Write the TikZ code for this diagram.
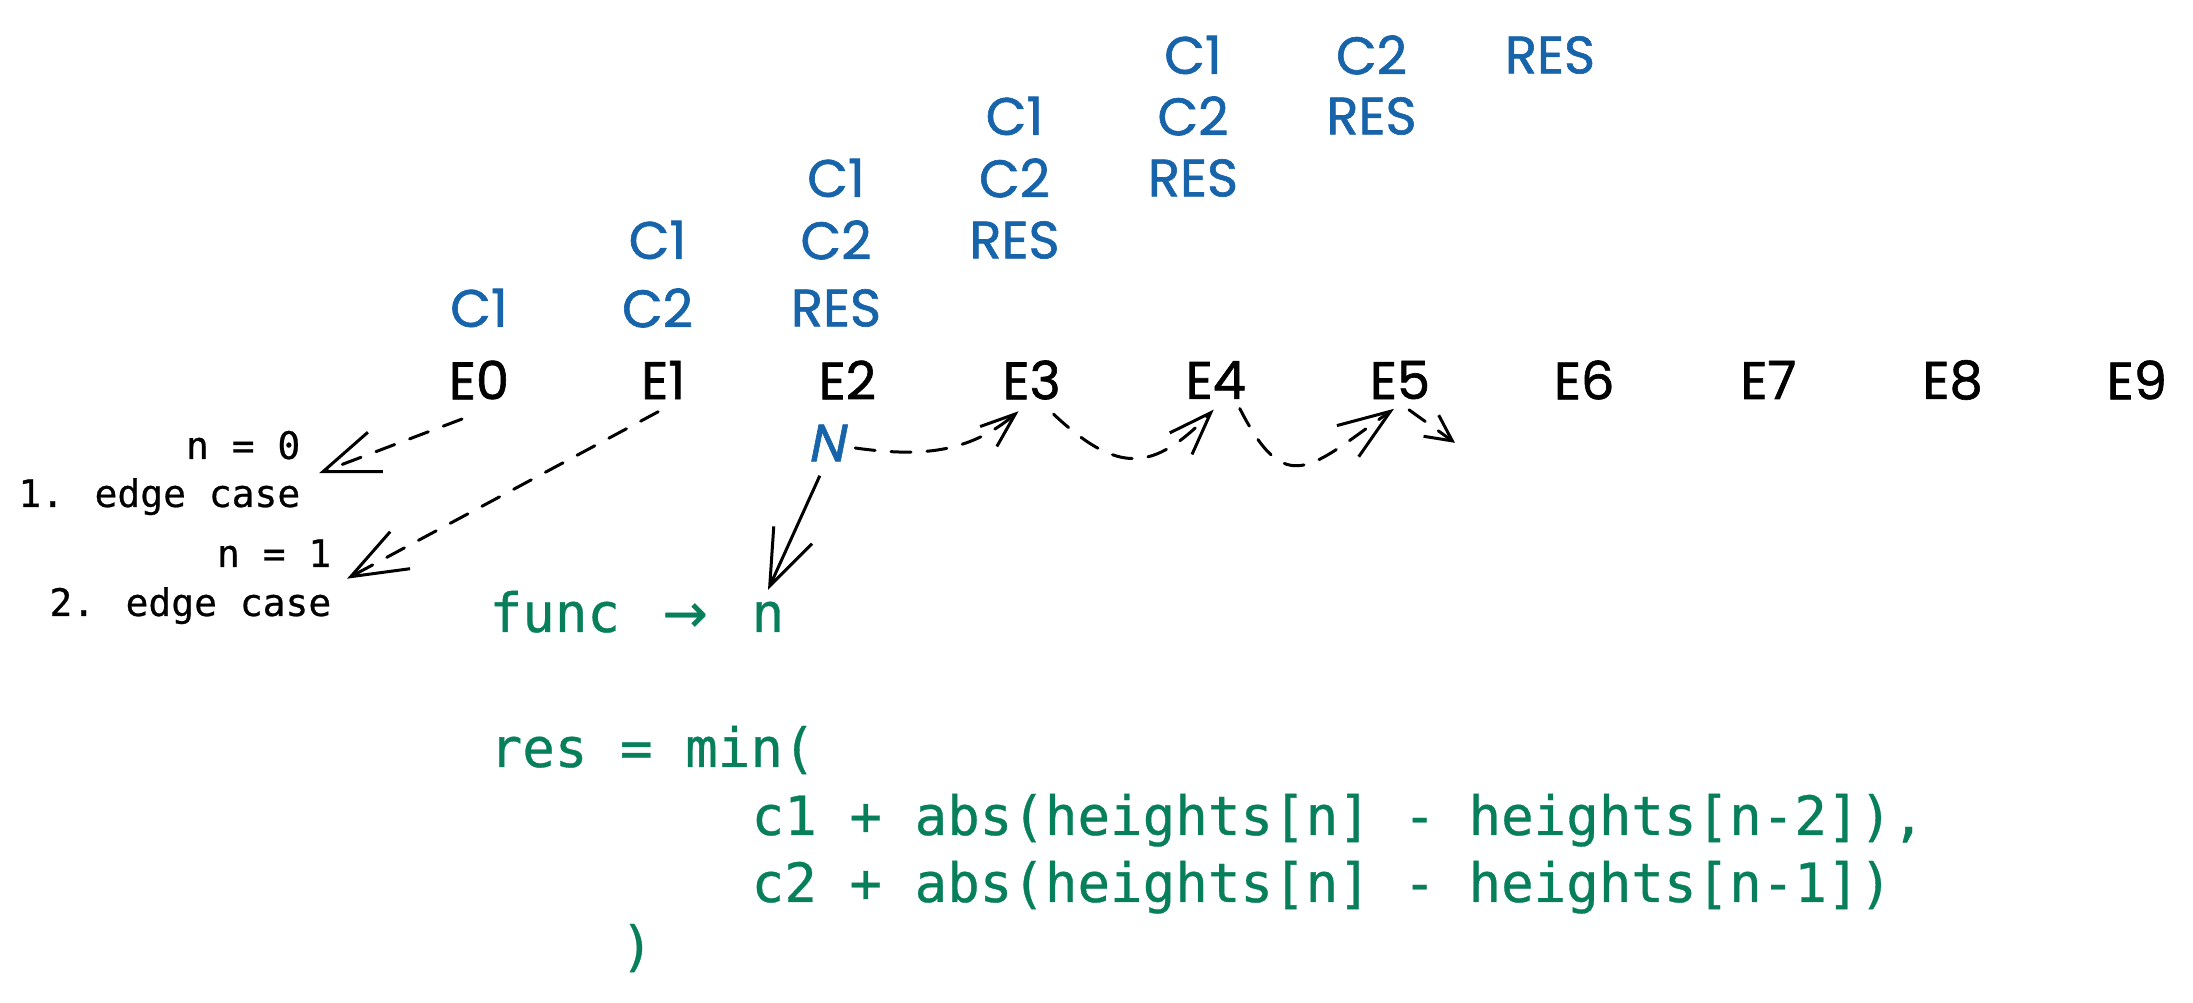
\documentclass[tikz,border=0pt]{standalone}
\usepackage{fontspec}
\setmainfont{Poppins}
\newfontfamily\handfont[FakeBold=1.2]{Poppins}
\newfontfamily\codefont[FakeBold=0.6]{DejaVu Sans Mono}
\newfontfamily\arrowfont[FakeBold=0.6]{DejaVu Sans}
\newfontfamily\slantfont[FakeSlant=0.2, FakeBold=1.2]{Poppins}
\usetikzlibrary{positioning, arrows.meta}
\definecolor{sketchblue}{HTML}{1864AB}
\definecolor{codegreen}{HTML}{087F5B}

\begin{document}
\begin{tikzpicture}
    [
        node distance=6.2mm and 17.85mm, on grid, inner sep=0pt,
        e_node/.style={font=\handfont\fontsize{15}{18}\selectfont, text=black},
        blue_node/.style={font=\handfont\fontsize{15}{18}\selectfont, text=sketchblue},
        code_node/.style={font=\codefont\fontsize{15.4}{18}\selectfont, text=codegreen, anchor=base west},
        note_node/.style={font=\codefont\fontsize{10.8}{13}\selectfont, text=black, anchor=base east},
        big_tip/.style={-{Straight Barb[length=5.6mm, width=4.2mm]}},
        dash_line/.style={dash pattern=on 2mm off 1.6mm, line cap=round},
    ]
        \useasboundingbox (-4.79,3.80) rectangle (17.14,-6.23) ;
        % steps
        \node[e_node] (e0) {E0} ;
        \node[e_node] (e1) [right = 18.42mm of e0] {E1} ;
        \node[e_node] (e2) [right = 18.42mm of e1] {E2} ;
        \node[e_node] (e3) [right = 18.42mm of e2] {E3} ;
        \node[e_node] (e4) [right = 18.42mm of e3] {E4} ;
        \node[e_node] (e5) [right = 18.42mm of e4] {E5} ;
        \node[e_node] (e6) [right = 18.42mm of e5] {E6} ;
        \node[e_node] (e7) [right = 18.42mm of e6] {E7} ;
        \node[e_node] (e8) [right = 18.42mm of e7] {E8} ;
        \node[e_node] (e9) [right = 18.42mm of e8] {E9} ;
        % c1, c2, res per step
        \node[blue_node] (c1a) [above = 7.2mm of e0] {C1} ;
        \node[blue_node] (c2a) [right = of c1a] {C2} ;
        \node[blue_node] (resa) [right = of c2a] {RES} ;
        \node[blue_node] (c1b) [above = 6.8mm of c2a] {C1} ;
        \node[blue_node] (c2b) [right = of c1b] {C2} ;
        \node[blue_node] (resb) [right = of c2b] {RES} ;
        \node[blue_node] (c1c) [above = of c2b] {C1} ;
        \node[blue_node] (c2c) [right = of c1c] {C2} ;
        \node[blue_node] (resc) [right = of c2c] {RES} ;
        \node[blue_node] (c1d) [above = of c2c] {C1} ;
        \node[blue_node] (c2d) [right = of c1d] {C2} ;
        \node[blue_node] (resd) [right = of c2d] {RES} ;
        \node[blue_node] (c1e) [above = 6.1mm of c2d] {C1} ;
        \node[blue_node] (c2e) [right = of c1e] {C2} ;
        \node[blue_node] (rese) [right = of c2e] {RES} ;
        \node[blue_node, font=\slantfont\fontsize{15}{18}\selectfont] (cur) at (3.47,-0.63) {N} ;
        % edge cases
        \node[note_node] (n0) at (-1.78,-0.79) {n = 0} ;
        \node[note_node] (case1) at (-1.78,-1.27) {1. edge case} ;
        \node[note_node] (n1) at (-1.47,-1.87) {n = 1} ;
        \node[note_node] (case2) at (-1.47,-2.36) {2. edge case} ;
        % recurrence
        \node[code_node] (fn) at (0.10,-2.52) {func \makebox[1.204em]{\arrowfont →}} ;
        \node[code_node] (fnarg) at (2.72,-2.52) {n} ;
        \node[code_node] (res) at (0.10,-3.87) {res = min(} ;
        \node[code_node] (cost1) at (2.72,-4.55) {c1 + abs(heights[n] - heights[n-2]),} ;
        \node[code_node] (cost2) at (2.72,-5.22) {c2 + abs(heights[n] - heights[n-1])} ;
        \node[code_node] (close) at (1.41,-5.85) {)} ;
        \draw[big_tip, dash_line, line width=0.3mm, color=black] ([xshift=-1.7mm, yshift=-1.9mm]e0.south) -- ([xshift=1.8mm, yshift=-1.3mm]n0.south east) ;
        \draw[big_tip, dash_line, line width=0.3mm, color=black] ([xshift=-0.5mm, yshift=-1.2mm]e1.south) -- ([xshift=1.5mm, yshift=-1.1mm]n1.south east) ;
        \draw[big_tip, line width=0.3mm, color=black, shorten <=1.5mm] (cur.south) -- ([yshift=1.1mm]fnarg.north) ;
        \draw[-{Straight Barb[length=3.5mm, width=2.6mm]}, dash_line, line width=0.3mm, color=black] ([xshift=1mm, yshift=-0.5mm]cur.east) to[out=-8, in=-140] ([xshift=-1.3mm, yshift=-1.1mm]e3.south) ;
        \draw[-{Straight Barb[length=4.3mm, width=3.1mm]}, dash_line, line width=0.3mm, color=black] ([xshift=2.2mm, yshift=-1.4mm]e3.south) to[out=-43, in=-134, looseness=1.4] ([xshift=-0.2mm, yshift=-1mm]e4.south) ;
        \draw[-{Straight Barb[length=5.2mm, width=3.8mm]}, dash_line, line width=0.3mm, color=black] ([xshift=2.4mm, yshift=-0.9mm]e4.south) to[out=-63, in=-145, looseness=1.7] ([xshift=-0.6mm, yshift=-0.9mm]e5.south) ;
        \draw[-{Straight Barb[length=2.6mm, width=2.6mm]}, dash_line, line width=0.3mm, color=black] ([xshift=0.9mm, yshift=-1mm]e5.south) -- ([xshift=5.5mm, yshift=-4.3mm]e5.south) ;
    \end{tikzpicture}
\end{document}
